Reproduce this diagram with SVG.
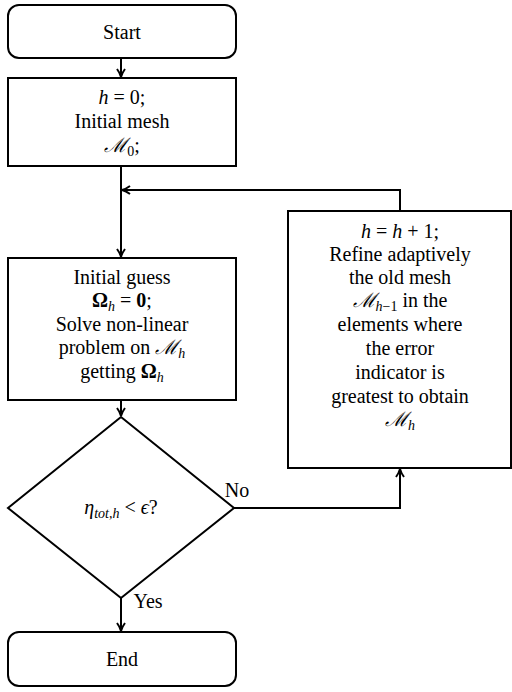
<svg xmlns="http://www.w3.org/2000/svg" width="512" height="692" viewBox="0 0 512 692">
<defs>
<marker id="ah" viewBox="0 0 10 10" refX="9" refY="5" markerWidth="10" markerHeight="10" orient="auto" markerUnits="userSpaceOnUse">
<path d="M1,1 Q5,4 9,5 Q5,6 1,9" fill="none" stroke="#000" stroke-width="2"/>
</marker>
</defs>
<rect width="512" height="692" fill="#fff"/>
<g id="connectors" fill="none" stroke="#000" stroke-width="2">
<line x1="121" y1="58" x2="121" y2="77" marker-end="url(#ah)"/>
<line x1="121" y1="166" x2="121" y2="257" marker-end="url(#ah)"/>
<polyline points="400,211 400,190 122,190" marker-end="url(#ah)"/>
<line x1="121" y1="400" x2="121" y2="416" marker-end="url(#ah)"/>
<polyline points="234,508 400,508 400,469" marker-end="url(#ah)"/>
<line x1="121" y1="598" x2="121" y2="631" marker-end="url(#ah)"/>
</g>
<g fill="#fff" stroke="#000" stroke-width="2">
<rect id="start-box" x="8" y="5" width="228" height="53" rx="11"/>
<rect id="init-box" x="8" y="78" width="228" height="88"/>
<rect id="solve-box" x="8" y="258" width="228" height="142"/>
<rect id="refine-box" x="288" y="211" width="223" height="257"/>
<polygon id="decision-box" points="121,417 234,508 121,598 8,508"/>
<rect id="end-box" x="8" y="632" width="228" height="54" rx="11"/>
</g>
<g font-family="Liberation Serif" font-size="20" text-anchor="middle" fill="#000">
<g id="start"><text x="122" y="39">Start</text></g>
<g id="init">
<text x="122" y="104"><tspan font-style="italic">h</tspan> = 0;</text>
<text x="122" y="128">Initial mesh</text>
<text x="122" y="152"><tspan font-style="italic">ℳ</tspan><tspan font-size="14" dy="4">0</tspan><tspan dy="-4">;</tspan></text>
</g>
<g id="solve">
<text x="122" y="284">Initial guess</text>
<text x="122" y="307"><tspan font-weight="bold">Ω</tspan><tspan font-size="14" font-style="italic" dy="4">h</tspan><tspan dy="-4"> = </tspan><tspan font-weight="bold">0</tspan>;</text>
<text x="122" y="331">Solve non-linear</text>
<text x="122" y="354">problem on <tspan font-style="italic">ℳ</tspan><tspan font-size="14" font-style="italic" dy="4">h</tspan></text>
<text x="122" y="378">getting <tspan font-weight="bold">Ω</tspan><tspan font-size="14" font-style="italic" dy="4">h</tspan></text>
</g>
<g id="refine">
<text x="400" y="238"><tspan font-style="italic">h</tspan> = <tspan font-style="italic">h</tspan> + 1;</text>
<text x="400" y="261">Refine adaptively</text>
<text x="400" y="284">the old mesh</text>
<text x="400" y="307"><tspan font-style="italic">ℳ</tspan><tspan font-size="14" font-style="italic" dy="4">h</tspan><tspan font-size="14">−1</tspan><tspan dy="-4"> in the</tspan></text>
<text x="400" y="331">elements where</text>
<text x="400" y="355">the error</text>
<text x="400" y="379">indicator is</text>
<text x="400" y="403">greatest to obtain</text>
<text x="400" y="426"><tspan font-style="italic">ℳ</tspan><tspan font-size="14" font-style="italic" dy="4">h</tspan></text>
</g>
<g id="decision">
<text x="121" y="514"><tspan font-style="italic">η</tspan><tspan font-size="14" font-style="italic" dy="4">tot,h</tspan><tspan dy="-4"> &lt; </tspan><tspan font-style="italic">ϵ</tspan>?</text>
<text x="237" y="497">No</text>
<text x="148" y="608">Yes</text>
</g>
<g id="end"><text x="122" y="666">End</text></g>
</g>
</svg>
